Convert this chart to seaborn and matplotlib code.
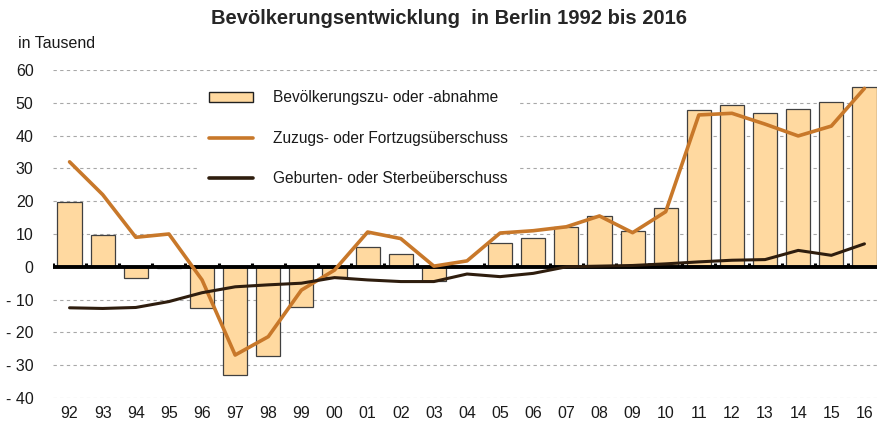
import numpy as np
import pandas as pd
import matplotlib
matplotlib.use("Agg")
import matplotlib.pyplot as plt
import seaborn as sns
from matplotlib.patches import Patch
from matplotlib.lines import Line2D

# Jahre (zweistellig) und Werte in Tausend
jahre = ["92", "93", "94", "95", "96", "97", "98", "99", "00", "01", "02", "03",
         "04", "05", "06", "07", "08", "09", "10", "11", "12", "13", "14", "15", "16"]
bevoelkerung = [19.8, 9.7, -3.5, -0.5, -12.7, -33.0, -27.1, -12.3, -3.2, 6.1, 4.0, -4.2,
                0.3, 7.2, 8.7, 12.2, 15.4, 10.9, 18.0, 47.8, 49.2, 46.8, 48.0, 50.1, 54.8]
wanderung = [32.0, 22.0, 9.0, 10.0, -4.0, -26.9, -21.3, -7.1, -1.0, 10.6, 8.6, 0.2,
             1.8, 10.3, 11.0, 12.2, 15.5, 10.4, 16.8, 46.3, 46.8, 43.5, 39.9, 42.9, 54.4]
natuerlich = [-12.5, -12.7, -12.4, -10.6, -7.9, -6.1, -5.5, -5.0, -3.3, -4.0, -4.5, -4.5,
              -2.2, -3.0, -2.0, 0.0, 0.2, 0.4, 0.9, 1.5, 2.0, 2.2, 5.0, 3.5, 7.0]
y_ticks = [-40, -30, -20, -10, 0, 10, 20, 30, 40, 50, 60]
y_labels = ["- 40", "- 30", "- 20", "- 10", "0", "10", "20", "30", "40", "50", "60"]

df = pd.DataFrame({"jahr": jahre, "pos": np.arange(len(jahre)),
                   "bev": bevoelkerung, "wan": wanderung, "nat": natuerlich})

farbe_bar = "#FFD9A0"
farbe_wan = "#C8782A"
farbe_nat = "#2E1D0E"

sns.set_style("white")
plt.rcParams["font.family"] = ["Liberation Sans", "DejaVu Sans"]

fig = plt.figure(figsize=(8.78, 4.30), dpi=100)
ax = fig.add_axes([53 / 878, 32 / 430, 828 / 878, 328 / 430])

# Gitterlinien
for t in y_ticks:
    ax.axhline(t, color="#A8A8A8", lw=0.8, ls=(0, (3, 3)), zorder=0)

sns.barplot(data=df, x="jahr", y="bev", color=farbe_bar, width=0.73,
            edgecolor="#404040", linewidth=0.9, saturation=1, ax=ax, zorder=2)

# Nulllinie mit kleinen Strichen zwischen den Jahren
ax.axhline(0, color="black", lw=2.8, zorder=3)
ax.vlines(df["pos"] - 0.5, 0, 1.3, color="black", lw=2.2, zorder=3)

sns.lineplot(data=df, x="pos", y="wan", color=farbe_wan, lw=2.6, ax=ax, zorder=4)
sns.lineplot(data=df, x="pos", y="nat", color=farbe_nat, lw=2.2, ax=ax, zorder=4)

ax.set_xlim(-0.5, len(jahre) - 0.5)
ax.set_ylim(-40, 60)
ax.set_yticks(y_ticks)
ax.set_yticklabels(y_labels)
ax.set_xticks(df["pos"])
ax.set_xticklabels(jahre)
ax.tick_params(axis="both", length=0, labelsize=11.5, colors="#1A1A1A")
ax.tick_params(axis="y", pad=14)
ax.tick_params(axis="x", pad=6)
ax.set_xlabel("")
ax.set_ylabel("")
for s in ax.spines.values():
    s.set_visible(False)

handles = [
    Patch(facecolor=farbe_bar, edgecolor="#202020", linewidth=1.0),
    Line2D([0], [0], color=farbe_wan, lw=2.6),
    Line2D([0], [0], color=farbe_nat, lw=2.6),
]
labels = ["Bevölkerungszu- oder -abnahme",
          "Zuzugs- oder Fortzugsüberschuss",
          "Geburten- oder Sterbeüberschuss"]
leg = ax.legend(handles, labels, loc="upper left",
                bbox_to_anchor=(192 / 878, 1 - 73 / 430), bbox_transform=fig.transFigure,
                frameon=True, fancybox=False, framealpha=1, edgecolor="white",
                fontsize=11.2, handlelength=2.8, handleheight=0.6, handletextpad=1.3,
                labelspacing=1.65, borderpad=0.6)
leg.set_zorder(5)
for t in leg.get_texts():
    t.set_color("#1A1A1A")

fig.text(449 / 878, 1 - 18 / 430, "Bevölkerungsentwicklung  in Berlin 1992 bis 2016",
         ha="center", va="center", fontsize=14.5, fontweight="bold")
fig.text(18 / 878, 1 - 44 / 430, "in Tausend", ha="left", va="center",
         fontsize=11.5, color="#1A1A1A")

fig.savefig("out.png", dpi=100)
